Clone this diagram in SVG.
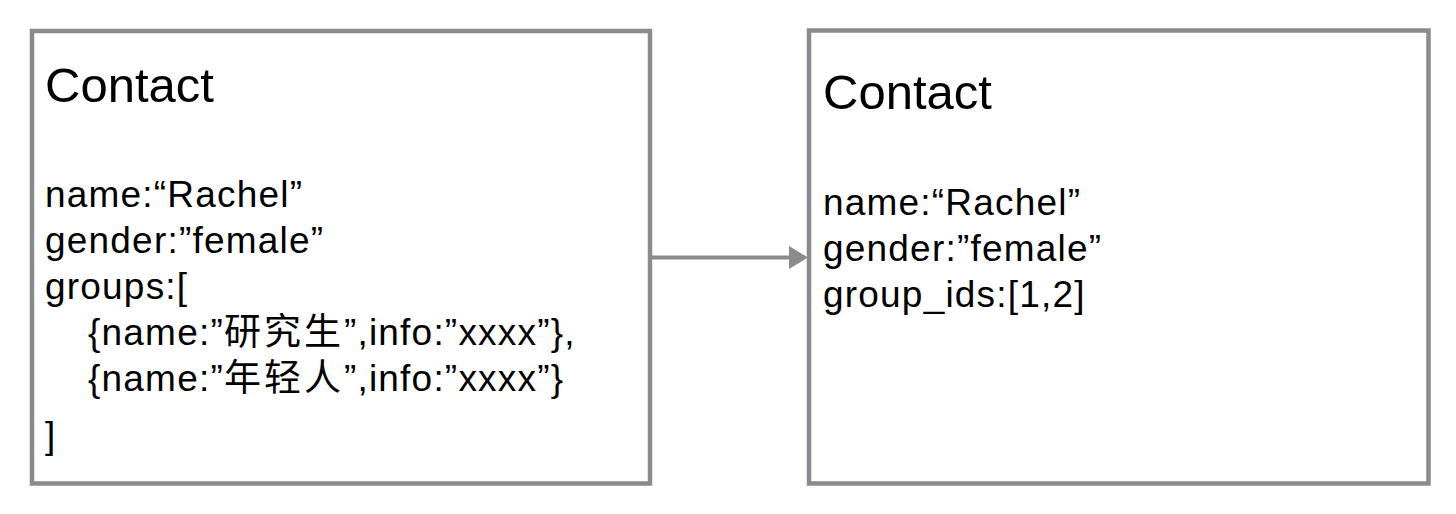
<svg xmlns="http://www.w3.org/2000/svg" width="1456" height="514" viewBox="0 0 1456 514">
<style>
.box{fill:#fff;stroke:#898b8e;stroke-width:4.5}
.t{font-family:"Liberation Sans","Noto Sans CJK SC",sans-serif;fill:#000}
.title{font-size:49px}
.body{font-size:37px;letter-spacing:1.2px}
.cjk{letter-spacing:3px}
.conn{stroke:#898b8e;stroke-width:4;fill:none}
</style>
<rect width="1456" height="514" fill="#fff"/>
<g id="node-left">
<rect class="box" x="32" y="31" width="618" height="452.5"/>
<text class="t title" x="45" y="102">Contact</text>
<text class="t body" x="45" y="207">name:“Rachel”</text>
<text class="t body" x="45" y="253">gender:”female”</text>
<text class="t body" x="45" y="299">groups:[</text>
<text class="t body" x="88" y="345">{name:”<tspan class="cjk">研究生</tspan>”,info:”xxxx”},</text>
<text class="t body" x="88" y="391">{name:”<tspan class="cjk">年轻人</tspan>”,info:”xxxx”}</text>
<text class="t body" x="45" y="448">]</text>
</g>
<g id="node-right">
<rect class="box" x="809" y="30.5" width="619.5" height="453"/>
<text class="t title" x="823" y="109">Contact</text>
<text class="t body" x="823" y="215">name:“Rachel”</text>
<text class="t body" x="823" y="261">gender:”female”</text>
<text class="t body" x="823" y="307">group_ids:[1,2]</text>
</g>
<g id="connectors">
<line class="conn" x1="652" y1="257.5" x2="790" y2="257.5"/>
<polygon points="789,246 808,257.5 789,269" fill="#898b8e"/>
</g>
</svg>
